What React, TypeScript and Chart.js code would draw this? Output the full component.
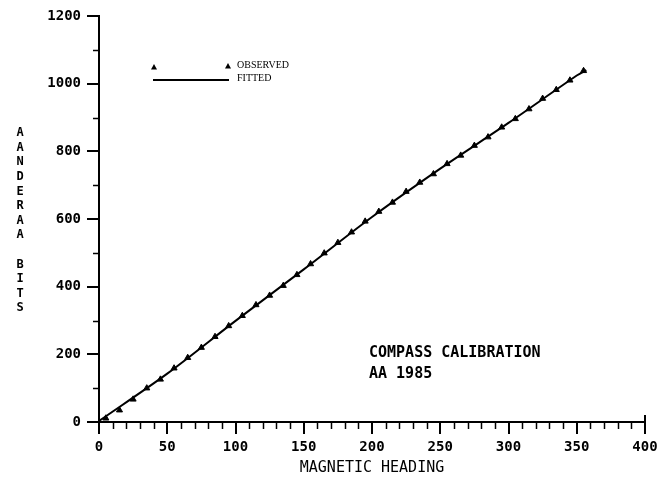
import React, { useEffect, useRef } from 'react';
import { Chart, registerables } from 'chart.js';

Chart.register(...registerables);

// ---- data ----
const headings = [5, 15, 25, 35, 45, 55, 65, 75, 85, 95, 105, 115, 125, 135, 145, 155, 165, 175, 185, 195, 205, 215, 225, 235, 245, 255, 265, 275, 285, 295, 305, 315, 325, 335, 345, 355];
const observedBits = [11, 35, 67, 100, 126, 159, 190, 220, 252, 284, 314, 346, 374, 403, 435, 467, 499, 530, 561, 593, 622, 649, 681, 708, 733, 763, 788, 817, 842, 871, 896, 925, 956, 982, 1010, 1038];
const fitHeadings = [0, 50, 100, 150, 200, 250, 300, 350, 357];
const fitBits = [3, 143, 299, 451, 606, 749, 884, 1024, 1040];
const xLabelValues = [0, 50, 100, 150, 200, 250, 300, 350, 400];
const yLabelValues = [0, 200, 400, 600, 800, 1000, 1200];
const xTitle = 'MAGNETIC HEADING';
const yTitle = 'AANDERAA BITS';
const noteLines = ['COMPASS CALIBRATION', 'AA 1985'];
const legendLabels = ['OBSERVED', 'FITTED'];

const MONO = '"DejaVu Sans Mono", monospace';

const extras = {
  id: 'extras',
  afterDraw(chart: any) {
    const ctx = chart.ctx;
    const xs = chart.scales.x;
    const ys = chart.scales.y;
    const area = chart.chartArea;
    ctx.save();
    ctx.strokeStyle = '#000';
    ctx.fillStyle = '#000';
    ctx.lineWidth = 1.5;
    // minor ticks x
    for (let v = 10; v < 400; v += 10) {
      if (xLabelValues.includes(v)) continue;
      const px = Math.round(xs.getPixelForValue(v)) + 0.5;
      ctx.beginPath();
      ctx.moveTo(px, area.bottom);
      ctx.lineTo(px, area.bottom + 7);
      ctx.stroke();
    }
    // minor ticks y
    for (let v = 100; v < 1200; v += 200) {
      const py = Math.round(ys.getPixelForValue(v)) + 0.5;
      ctx.beginPath();
      ctx.moveTo(area.left, py);
      ctx.lineTo(area.left - 6, py);
      ctx.stroke();
    }
    // right end hook
    ctx.lineWidth = 2;
    ctx.beginPath();
    ctx.moveTo(area.right, area.bottom);
    ctx.lineTo(area.right, area.bottom - 7);
    ctx.stroke();
    // top hook
    ctx.beginPath();
    ctx.moveTo(area.left, area.top);
    ctx.lineTo(area.left, area.top + 4);
    ctx.stroke();

    // stacked y title
    ctx.font = 'bold 12px ' + MONO;
    ctx.textAlign = 'center';
    ctx.textBaseline = 'middle';
    const chars = yTitle.split('');
    chars.forEach((c, i) => {
      if (c !== ' ') ctx.fillText(c, 20, 133 + i * 14.6);
    });

    // annotation
    ctx.font = 'bold 15px ' + MONO;
    ctx.textAlign = 'left';
    ctx.textBaseline = 'middle';
    noteLines.forEach((t, i) => {
      ctx.fillText(t, 369, 353 + i * 21);
    });

    // legend
    const drawTri = (x: number, y: number, r: number) => {
      ctx.beginPath();
      ctx.moveTo(x, y - r);
      ctx.lineTo(x + r, y + r * 0.8);
      ctx.lineTo(x - r, y + r * 0.8);
      ctx.closePath();
      ctx.fill();
    };
    drawTri(154, 67, 3);
    drawTri(228, 66, 3);
    ctx.lineWidth = 2;
    ctx.beginPath();
    ctx.moveTo(153, 80);
    ctx.lineTo(229, 80);
    ctx.stroke();
    ctx.font = '10px "Liberation Serif", serif';
    ctx.textAlign = 'left';
    ctx.fillText(legendLabels[0], 237, 65);
    ctx.fillText(legendLabels[1], 237, 78);
    ctx.restore();
  },
};

export default function App() {
  const ref = useRef<HTMLCanvasElement>(null);
  useEffect(() => {
    if (!ref.current) return;
    const chart = new Chart(ref.current, {
      type: 'scatter',
      data: {
        datasets: [
          {
            label: legendLabels[0],
            data: headings.map((h, i) => ({ x: h, y: observedBits[i] })),
            pointStyle: 'triangle',
            pointRadius: 3.5,
            backgroundColor: '#000',
            borderColor: '#000',
            borderWidth: 1,
            showLine: false,
          },
          {
            label: legendLabels[1],
            data: fitHeadings.map((h, i) => ({ x: h, y: fitBits[i] })),
            showLine: true,
            pointRadius: 0,
            borderColor: '#000',
            borderWidth: 2,
            tension: 0.3,
          },
        ],
      },
      options: {
        animation: false,
        responsive: true,
        maintainAspectRatio: false,
        layout: { padding: { left: 0, right: 13, top: 16, bottom: 0 } },
        plugins: { legend: { display: false }, tooltip: { enabled: false } },
        scales: {
          x: {
            type: 'linear',
            min: 0,
            max: 400,
            afterFit: (s: any) => { s.height = 65; s.paddingRight = 0; s.paddingLeft = 0; },
            ticks: {
              stepSize: 10,
              autoSkip: false,
              maxRotation: 0,
              padding: 5,
              color: '#000',
              font: { family: MONO, size: 14, weight: 'bold' },
              callback: (v: any) => (xLabelValues.includes(Number(v)) ? String(v) : ''),
            },
            grid: {
              drawOnChartArea: false,
              drawTicks: true,
              tickLength: 12,
              lineWidth: 2,
              color: (c: any) => (c.tick && xLabelValues.includes(c.tick.value) ? '#000' : 'rgba(0,0,0,0)'),
            },
            border: { display: true, color: '#000', width: 2 },
            title: {
              display: true,
              text: xTitle,
              color: '#000',
              font: { family: MONO, size: 15 },
              padding: { top: 0, bottom: 10 },
            },
          },
          y: {
            type: 'linear',
            min: 0,
            max: 1200,
            afterFit: (s: any) => { s.width = 99; s.paddingTop = 0; s.paddingBottom = 0; },
            ticks: {
              stepSize: 200,
              padding: 6,
              color: '#000',
              font: { family: MONO, size: 14, weight: 'bold' },
              callback: (v: any) => (yLabelValues.includes(Number(v)) ? String(v) : ''),
            },
            grid: {
              drawOnChartArea: false,
              drawTicks: true,
              tickLength: 12,
              lineWidth: 2,
              color: '#000',
            },
            border: { display: true, color: '#000', width: 2 },
          },
        },
      },
      plugins: [extras],
    });
    return () => chart.destroy();
  }, []);
  return (
    <div style={{ position: 'absolute', left: 0, top: 0, width: 658, height: 487, background: '#fff' }}>
      <canvas ref={ref} />
    </div>
  );
}
